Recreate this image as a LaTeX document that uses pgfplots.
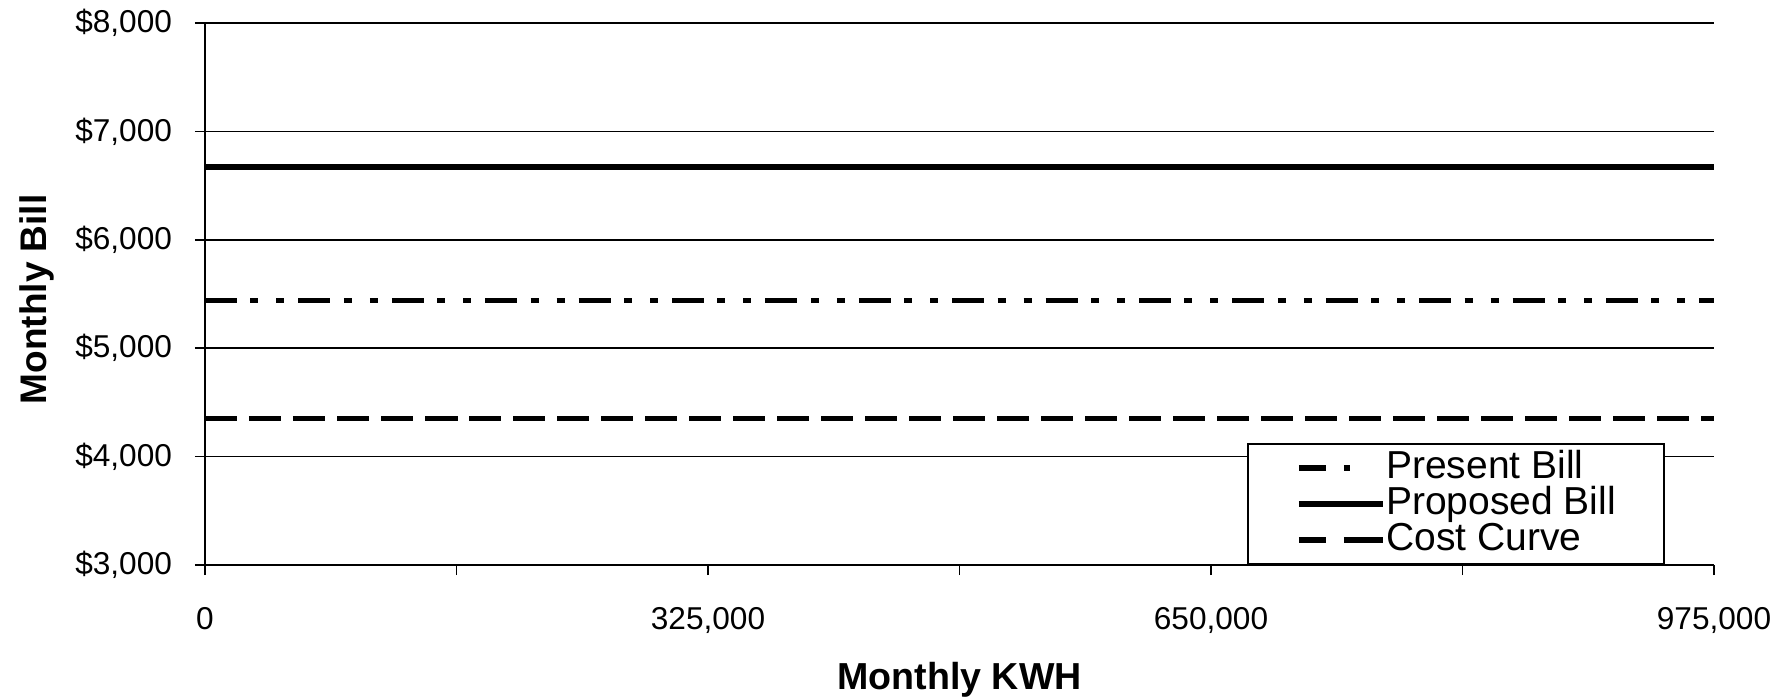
\documentclass[border=0pt]{standalone}
\usepackage{pgfplots}
\pgfplotsset{compat=1.18}
\usepackage{fontspec}
\setmainfont{Liberation Sans}
\pgfplotsset{
  legpresent/.style={legend image code/.code={\draw[##1, dash pattern=on 13.5pt off 9pt on 3pt off 100pt] (0pt,0pt) -- (42pt,0pt);}},
  legsolid/.style={legend image code/.code={\draw[##1] (0pt,0pt) -- (42pt,0pt);}},
  legcost/.style={legend image code/.code={\draw[##1, dash pattern=on 13.5pt off 9pt on 20pt off 100pt] (0pt,0pt) -- (42pt,0pt);}},
}
\begin{document}
\begin{tikzpicture}
\useasboundingbox (-102.5pt,-66pt) rectangle (788.5pt,282.5pt);
\begin{axis}[
  at={(0pt,0pt)}, anchor=south west,
  scale only axis, width=754.5pt, height=271pt,
  xmin=0, xmax=975000, ymin=3000, ymax=8000,
  axis x line*=bottom, axis y line*=left,
  xtick={0,325000,650000,975000},
  minor xtick={162500,487500,812500},
  ytick={3000,4000,5000,6000,7000,8000},
  tick align=outside,
  major tick length=5pt, minor tick length=5pt,
  tick style={black, line width=0.8pt},
  ymajorgrids, grid style={black, line width=0.8pt},
  axis line style={black, line width=1pt},
  scaled x ticks=false, scaled y ticks=false,
  /pgf/number format/assume math mode=true,
  /pgf/number format/fixed,
  /pgf/number format/1000 sep={,},
  yticklabel={\$\pgfmathprintnumber{\tick}},
  ticklabel style={font=\fontsize{15.8}{18}\selectfont},
  xticklabel style={anchor=base, yshift=-27pt},
  yticklabel style={xshift=-8pt},
  xlabel={Monthly KWH},
  ylabel={Monthly Bill},
  xlabel style={at={(axis description cs:0.5,0)}, anchor=base, yshift=-62pt, font=\bfseries\fontsize{18.8}{20}\selectfont},
  ylabel style={at={(axis description cs:-0.1113,0.49)}, anchor=center, font=\bfseries\fontsize{18.5}{20}\selectfont},
  legend style={at={(axis description cs:0.6905,0)}, anchor=south west,
    draw=black, line width=0.8pt, fill=white,
    inner xsep=24pt, inner ysep=3pt,
    font=\fontsize{19.5}{20}\selectfont,
    nodes={inner sep=0pt, text height=14.2pt, text depth=3.8pt},
    row sep=0pt, column sep=0pt},
  legend cell align=left,
]
\addplot[black, line width=2.8pt, dash pattern=on 16pt off 6.7pt on 4pt off 9pt on 4pt off 7pt, legpresent]
  coordinates {(0,5440) (162500,5440) (325000,5440) (487500,5440) (650000,5440) (812500,5440) (975000,5440)};
\addlegendentry{Present Bill}
\addplot[black, line width=3.2pt, legsolid]
  coordinates {(0,6670) (162500,6670) (325000,6670) (487500,6670) (650000,6670) (812500,6670) (975000,6670)};
\addlegendentry{Proposed Bill}
\addplot[black, line width=2.8pt, dash pattern=on 16pt off 6pt, legcost]
  coordinates {(0,4350) (162500,4350) (325000,4350) (487500,4350) (650000,4350) (812500,4350) (975000,4350)};
\addlegendentry{Cost Curve}
\end{axis}
\end{tikzpicture}
\end{document}
